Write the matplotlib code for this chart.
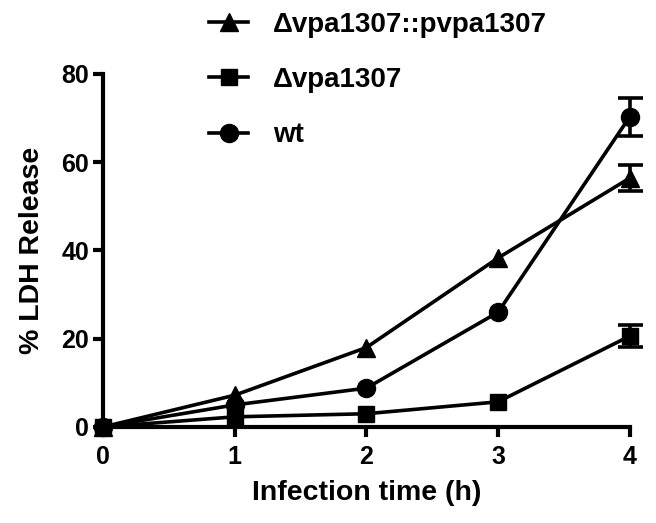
import matplotlib
matplotlib.use("Agg")
import matplotlib.pyplot as plt
from matplotlib.lines import Line2D

plt.rcParams['font.family'] = ['Liberation Sans', 'DejaVu Sans']
plt.rcParams['font.weight'] = 'bold'

times = [0, 1, 2, 3, 4]
comp = [0, 7.2, 18, 38.3, 56.4]
comp_err = [0, 0, 0, 0, 3]
mut = [0, 2.3, 3, 5.7, 20.6]
mut_err = [0, 0, 0, 0, 2.5]
wt = [0, 5, 8.8, 26, 70.3]
wt_err = [0, 0, 0, 0, 4.3]
labels = ["\u0394vpa1307::pvpa1307", "\u0394vpa1307", "wt"]

fig = plt.figure(figsize=(6.56, 5.23), dpi=100)
ax = fig.add_axes([0.157, 0.1836, 0.803, 0.675])

lw = 2.6
msizes = {'^': 12.5, 's': 11.5, 'o': 13}
series = [(comp, comp_err, '^'), (mut, mut_err, 's'), (wt, wt_err, 'o')]
for vals, errs, m in series:
    ax.plot(times, vals, color='black', marker=m, markersize=msizes[m],
            linewidth=lw, clip_on=False, zorder=3)
    idx = [i for i, e in enumerate(errs) if e > 0]
    ax.errorbar([times[i] for i in idx], [vals[i] for i in idx],
                yerr=[errs[i] for i in idx], fmt='none', ecolor='black',
                elinewidth=lw, capsize=9, capthick=lw, clip_on=False, zorder=3)

ax.set_xlim(0, 4)
ax.set_ylim(0, 80)
ax.set_xticks([0, 1, 2, 3, 4])
ax.set_yticks([0, 20, 40, 60, 80])
for s in ['top', 'right']:
    ax.spines[s].set_visible(False)
for s in ['left', 'bottom']:
    ax.spines[s].set_linewidth(3)
ax.tick_params(width=3, length=7, labelsize=18)
ax.tick_params(axis='x', pad=6)
ax.tick_params(axis='y', pad=3)
for t in ax.get_xticklabels() + ax.get_yticklabels():
    t.set_fontweight('bold')
ax.set_xlabel("Infection time (h)", fontsize=20.5, fontweight='bold', labelpad=8)
ax.set_ylabel("% LDH Release", fontsize=20.5, fontweight='bold', labelpad=12)

handles = [Line2D([], [], color='black', marker=m, markersize=msizes[m], linewidth=lw)
           for m in ['^', 's', 'o']]
fig.legend(handles, labels, loc='upper left', bbox_to_anchor=(0.281, 1.025),
           frameon=False, prop={'size': 20, 'weight': 'bold'},
           handlelength=1.4, labelspacing=1.05, handletextpad=0.9)

fig.savefig("out.png", dpi=100)
